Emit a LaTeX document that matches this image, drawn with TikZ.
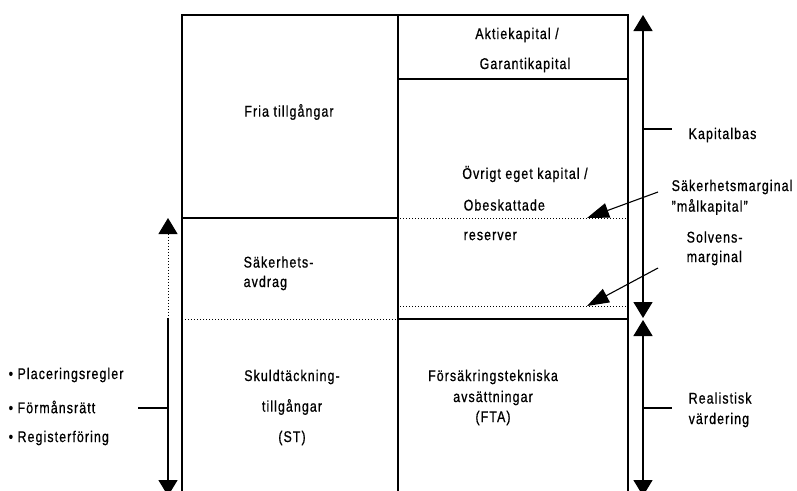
\documentclass[tikz,border=0pt]{standalone}
\usepackage{fontspec}
\setmainfont{Liberation Sans}[FakeStretch=0.8,LetterSpace=7,FakeBold=0.8]
\usetikzlibrary{arrows.meta,positioning}

\begin{document}
\begin{tikzpicture}[x=1pt,y=-1pt,line width=1.4pt,
  lbl/.style={font=\fontsize{15.5}{17}\selectfont,inner sep=0pt},
  bigtip/.tip={Triangle[width=19pt,length=16pt]},
  pointer/.style={line width=1.1pt,-{Triangle[width=15pt,length=22pt]}},
  dotline/.style={dotted,line width=1pt}]
\useasboundingbox (0,0) rectangle (797,490);
\clip (0,0) rectangle (797,490);
% balance sheet frame
\draw (182,500) -- (182,15) -- (628,15) -- (628,500);
\draw (398,15) -- (398,500);
\draw (398,79) -- (628,79);
\draw (182,218) -- (398,218);
\draw (398,319) -- (628,319);
\draw[dotline] (182,319) -- (398,319);
\draw[dotline] (400,218) -- (626,218);
\draw[dotline] (400,306) -- (626,306);
% texts in the boxes
\node[lbl] (aktie) at (517,35) {Aktiekapital /};
\node[lbl] (garanti) at (525,65) {Garantikapital};
\node[lbl] (fria) at (289,112) {Fria tillgångar};
\node[lbl] (ovrigt) at (525,174) {Övrigt eget kapital /};
\node[lbl,anchor=west] (obesk) at (463,205) {Obeskattade};
\node[lbl,anchor=west] (reserver) at (463,236) {reserver};
\node[lbl,anchor=west] (sakavd) at (243,262) {Säkerhets-};
\node[lbl,anchor=west] (avdrag) at (243,283) {avdrag};
\node[lbl] (skuld) at (292,377) {Skuldtäckning-};
\node[lbl] (tillg) at (292,407) {tillgångar};
\node[lbl] (st) at (292,438) {(ST)};
\node[lbl] (fors) at (493,377) {Försäkringstekniska};
\node[lbl] (avsatt) at (493,398) {avsättningar};
\node[lbl] (fta) at (493,418) {(FTA)};
% right side
\coordinate (kbTop) at (643,15);
\coordinate (kbBot) at (643,318);
\coordinate (rvTop) at (643,320);
\coordinate (rvBot) at (643,496);
\draw[bigtip-bigtip] (kbTop) -- (kbBot);
\draw[bigtip-bigtip] (rvTop) -- (rvBot);
\coordinate (kbTick) at (643,129);
\coordinate (rvTick) at (643,408);
\draw (kbTick) -- ++(29,0);
\draw (rvTick) -- ++(29,0);
\node[lbl,anchor=west] (kapbas) at (688,135) {Kapitalbas};
\node[lbl,anchor=west] (realist) at (688,398) {Realistisk};
\node[lbl,anchor=west] (vard) at (688,420) {värdering};
\node[lbl,anchor=west] (smarg) at (671,187) {Säkerhetsmarginal};
\node[lbl,anchor=west] (malkap) at (671,207) {”målkapital”};
\node[lbl,anchor=west] (solv) at (686,237) {Solvens-};
\node[lbl,anchor=west] (solvmarg) at (686,258) {marginal};
\coordinate (smTail) at (658,192);
\coordinate (smHead) at (587,218);
\coordinate (solvTail) at (658,268);
\coordinate (solvHead) at (587,306);
\draw[pointer] (smTail) -- (smHead);
\draw[pointer] (solvTail) -- (solvHead);
% left side
\coordinate (stTop) at (168,218);
\coordinate (stMid) at (168,318);
\coordinate (stBot) at (168,496);
\draw[dotline,bigtip-] (stTop) -- (stMid);
\draw[-bigtip] (stMid) -- (stBot);
\coordinate (stTick) at (168,408);
\draw (stTick) -- ++(-30,0);
\node[lbl,anchor=west] (plac) at (8,375) {• Placeringsregler};
\node[lbl,anchor=west] (forman) at (8,407) {• Förmånsrätt};
\node[lbl,anchor=west] (regist) at (8,438) {• Registerföring};
\end{tikzpicture}
\end{document}
